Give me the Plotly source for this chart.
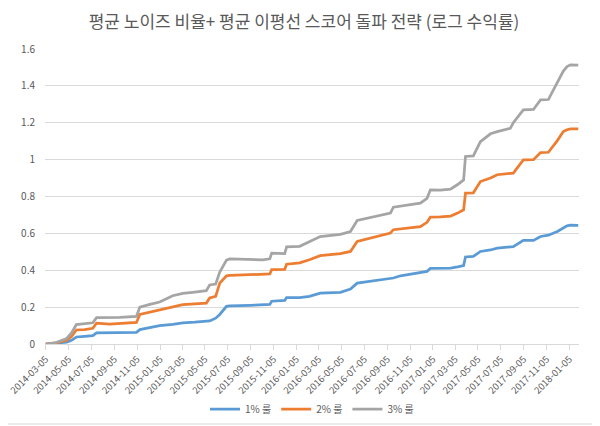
import plotly.graph_objects as go

dates = [
    "2014-03-05", "2014-04-02", "2014-04-30", "2014-05-13", "2014-05-26", "2014-06-17",
    "2014-07-09", "2014-07-19", "2014-08-23", "2014-09-19", "2014-11-03", "2014-11-12",
    "2014-12-09", "2015-01-04", "2015-02-08", "2015-03-07", "2015-04-08", "2015-05-09",
    "2015-05-18", "2015-06-03", "2015-06-14", "2015-07-02", "2015-07-11", "2015-09-03",
    "2015-10-07", "2015-10-26", "2015-10-31", "2015-12-05", "2015-12-10", "2016-01-14",
    "2016-02-09", "2016-03-09", "2016-05-02", "2016-05-29", "2016-06-16", "2016-08-17",
    "2016-09-13", "2016-09-21", "2016-10-10", "2016-12-02", "2016-12-20", "2016-12-29",
    "2017-01-25", "2017-02-21", "2017-03-12", "2017-03-28", "2017-04-02", "2017-04-23",
    "2017-05-12", "2017-06-08", "2017-06-26", "2017-07-31", "2017-08-08", "2017-09-04",
    "2017-10-01", "2017-10-20", "2017-11-10", "2017-12-04", "2017-12-20", "2017-12-30",
    "2018-01-08", "2018-01-29",
]

rule_1pct = [
    0.0, 0.003, 0.01, 0.02, 0.038, 0.042,
    0.045, 0.06, 0.06, 0.062, 0.063, 0.078,
    0.088, 0.1, 0.106, 0.114, 0.118, 0.123,
    0.125, 0.14, 0.16, 0.204, 0.207, 0.21,
    0.212, 0.215, 0.232, 0.236, 0.252, 0.252,
    0.258, 0.276, 0.28, 0.298, 0.33, 0.348,
    0.355, 0.358, 0.37, 0.388, 0.394, 0.41,
    0.41, 0.412, 0.418, 0.425, 0.472, 0.475,
    0.502, 0.51, 0.52, 0.525, 0.528, 0.562,
    0.562, 0.583, 0.59, 0.61, 0.63, 0.641,
    0.645, 0.644,
]

rule_2pct = [
    0.0, 0.006, 0.02, 0.04, 0.076, 0.078,
    0.085, 0.113, 0.108, 0.112, 0.117, 0.16,
    0.172, 0.182, 0.2, 0.213, 0.218, 0.222,
    0.25, 0.258, 0.33, 0.37, 0.372, 0.375,
    0.375, 0.38, 0.403, 0.405, 0.433, 0.44,
    0.457, 0.479, 0.49, 0.502, 0.556, 0.587,
    0.602, 0.62, 0.625, 0.637, 0.66, 0.688,
    0.69, 0.694, 0.71, 0.728, 0.818, 0.82,
    0.881, 0.9, 0.918, 0.925, 0.927, 0.999,
    1.0, 1.038, 1.04, 1.103, 1.152, 1.162,
    1.167, 1.167,
]

rule_3pct = [
    0.0, 0.008, 0.03, 0.06, 0.105, 0.108,
    0.115, 0.143, 0.142, 0.145, 0.15, 0.2,
    0.215, 0.228, 0.262, 0.275, 0.282, 0.289,
    0.32, 0.325, 0.39, 0.455, 0.461, 0.46,
    0.456, 0.462, 0.493, 0.49, 0.527, 0.53,
    0.556, 0.583, 0.595, 0.61, 0.67, 0.7,
    0.71, 0.742, 0.748, 0.764, 0.79, 0.836,
    0.835, 0.84, 0.865, 0.89, 1.017, 1.02,
    1.098, 1.14, 1.152, 1.17, 1.2, 1.27,
    1.272, 1.324, 1.326, 1.415, 1.48, 1.505,
    1.514, 1.512,
]

series_names = ["1% 룰", "2% 룰", "3% 룰"]
series_colors = ["#5B9BD5", "#ED7D31", "#A5A5A5"]

tick_dates = [
    "2014-03-05", "2014-05-05", "2014-07-05", "2014-09-05", "2014-11-05",
    "2015-01-05", "2015-03-05", "2015-05-05", "2015-07-05", "2015-09-05", "2015-11-05",
    "2016-01-05", "2016-03-05", "2016-05-05", "2016-07-05", "2016-09-05", "2016-11-05",
    "2017-01-05", "2017-03-05", "2017-05-05", "2017-07-05", "2017-09-05", "2017-11-05",
    "2018-01-05",
]
y_ticks = [0, 0.2, 0.4, 0.6, 0.8, 1.0, 1.2, 1.4, 1.6]
y_tick_text = ["0", "0.2", "0.4", "0.6", "0.8", "1", "1.2", "1.4", "1.6"]

fig = go.Figure()
for name, vals, col in zip(series_names, [rule_1pct, rule_2pct, rule_3pct], series_colors):
    fig.add_trace(go.Scatter(
        x=dates, y=vals, mode="lines", name=name,
        line=dict(color=col, width=2.75),
    ))

# page has an 8px body margin: figure is sized to the visible area
W, H = 592, 418
font_family = "Noto Sans CJK KR, Noto Sans, sans-serif"
fig.update_layout(
    width=W, height=H,
    margin=dict(l=37, r=21, t=41, b=82, autoexpand=False),
    paper_bgcolor="white", plot_bgcolor="white",
    font=dict(family=font_family, color="#595959", size=10),
    title=dict(
        text="평균 노이즈 비율+ 평균 이평선 스코어 돌파 전략 (로그 수익률)",
        x=0.5, xanchor="center", y=1 - 14 / H, yanchor="middle",
        font=dict(size=17, color="#595959", family=font_family),
    ),
    showlegend=True,
    legend=dict(
        orientation="h", x=0.5, xanchor="center",
        yref="container", y=(H - 401) / H, yanchor="middle",
        font=dict(size=10, color="#595959"), itemwidth=30,
        bgcolor="rgba(0,0,0,0)",
    ),
    xaxis=dict(
        type="date",
        range=["2014-03-03", "2018-01-31"],
        tickvals=tick_dates, ticktext=tick_dates,
        tickangle=-45, showgrid=False, automargin=False,
        ticklabeloverflow="allow",
        showline=True, linecolor="#D9D9D9", linewidth=1,
        ticks="outside", ticklen=5, tickcolor="#D9D9D9",
        tickfont=dict(size=9.5, color="#595959"),
        zeroline=False,
    ),
    yaxis=dict(
        range=[0, 1.6], tickvals=y_ticks, ticktext=y_tick_text,
        showgrid=True, gridcolor="#D9D9D9", gridwidth=1, automargin=False,
        zeroline=False, showline=False, ticks="", ticklabelstandoff=9,
        tickfont=dict(size=10, color="#595959"),
    ),
)

# light chart border (right and bottom edges fall inside the visible figure)
pw, ph = W - 37 - 21, H - 41 - 82
fig.add_shape(
    type="rect", xref="paper", yref="paper",
    x0=(-7 - 37) / pw, x1=(590 - 37) / pw,
    y0=(336 - 416) / ph, y1=(336 + 7) / ph,
    line=dict(color="#D9D9D9", width=1), fillcolor="rgba(0,0,0,0)", layer="below",
)

fig.write_html("out.html")
